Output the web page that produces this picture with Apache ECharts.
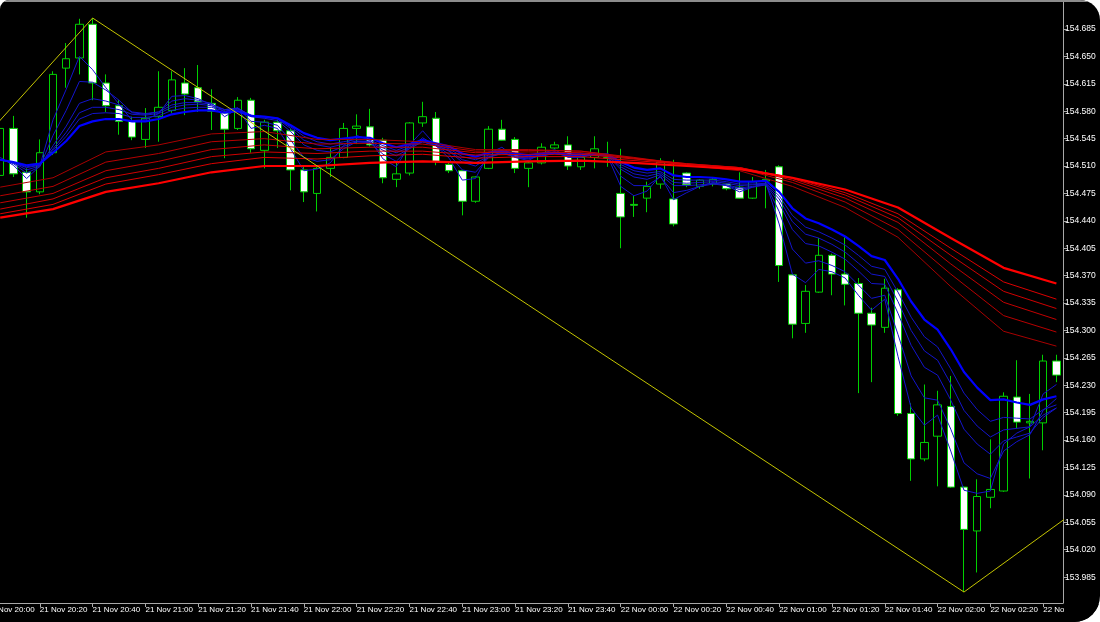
<!DOCTYPE html>
<html>
<head>
<meta charset="utf-8">
<script src="https://cdn.jsdelivr.net/npm/echarts@6/dist/echarts.min.js"></script>
<style>
  html,body{margin:0;padding:0;background:#fff;}
  #wrap{position:relative;width:1100px;height:622px;background:#000;border-radius:9px 20px 26px 0;overflow:hidden;}
  #c{position:absolute;left:-16px;top:0;width:1116px;height:622px;}
</style>
</head>
<body>
<div id="wrap"><div id="c"></div></div>
<script>
// ---- data (M5 bars, 21 Nov 20:05 .. 22 Nov 02:45) ----
const times = [
"20:05","20:10","20:15","20:20","20:25","20:30","20:35","20:40","20:45","20:50",
"20:55","21:00","21:05","21:10","21:15","21:20","21:25","21:30","21:35","21:40",
"21:45","21:50","21:55","22:00","22:05","22:10","22:15","22:20","22:25","22:30",
"22:35","22:40","22:45","22:50","22:55","23:00","23:05","23:10","23:15","23:20",
"23:25","23:30","23:35","23:40","23:45","23:50","23:55","00:00","00:05","00:10",
"00:15","00:20","00:25","00:30","00:35","00:40","00:45","00:50","00:55","01:00",
"01:05","01:10","01:15","01:20","01:25","01:30","01:35","01:40","01:45","01:50",
"01:55","02:00","02:05","02:10","02:15","02:20","02:25","02:30","02:35","02:40",
"02:45"];

const opens = [154.498,154.558,154.502,154.477,154.527,154.635,154.648,154.691,154.616,154.587,
154.567,154.544,154.573,154.581,154.616,154.610,154.590,154.578,154.558,154.594,
154.530,154.566,154.555,154.505,154.475,154.507,154.521,154.558,154.560,154.543,
154.493,154.501,154.565,154.571,154.512,154.504,154.465,154.507,154.557,154.544,
154.507,154.514,154.533,154.537,154.509,154.521,154.520,154.475,154.461,154.469,
154.487,154.468,154.501,154.484,154.487,154.487,154.483,154.469,154.491,154.509,
154.371,154.309,154.349,154.396,154.372,154.360,154.322,154.304,154.352,154.194,
154.136,154.165,154.203,154.100,154.044,154.087,154.095,154.215,154.182,154.182,
154.261];

const closes = [154.558,154.500,154.477,154.527,154.627,154.647,154.691,154.616,154.587,154.567,
154.547,154.571,154.585,154.620,154.602,154.592,154.580,154.557,154.594,154.532,
154.566,154.555,154.505,154.477,154.507,154.521,154.558,154.561,154.537,154.495,
154.500,154.565,154.573,154.516,154.504,154.465,154.496,154.557,154.543,154.507,
154.514,154.534,154.537,154.510,154.521,154.532,154.521,154.445,154.460,154.484,
154.515,154.436,154.486,154.492,154.493,154.481,154.469,154.490,154.493,154.383,
154.308,154.350,154.396,154.372,154.359,154.322,154.307,154.354,154.194,154.136,
154.157,154.205,154.100,154.046,154.088,154.097,154.216,154.183,154.184,154.261,
154.243];

const lows = [154.492,154.496,154.444,154.474,154.524,154.610,154.627,154.594,154.579,154.550,
154.543,154.533,154.541,154.578,154.575,154.579,154.556,154.520,154.556,154.527,
154.507,154.533,154.479,154.464,154.452,154.496,154.520,154.538,154.535,154.488,
154.483,154.498,154.560,154.511,154.501,154.447,154.463,154.506,154.542,154.501,
154.483,154.512,154.532,154.505,154.505,154.507,154.509,154.405,154.445,154.451,
154.481,154.433,154.483,154.481,154.484,154.479,154.468,154.468,154.456,154.362,
154.290,154.297,154.348,154.345,154.332,154.220,154.234,154.297,154.191,154.108,
154.133,154.101,154.099,153.966,153.991,154.073,154.094,154.175,154.111,154.147,
154.234];

const highs = [154.569,154.574,154.507,154.544,154.631,154.667,154.698,154.699,154.627,154.594,
154.573,154.584,154.631,154.631,154.635,154.639,154.608,154.581,154.598,154.597,
154.569,154.569,154.558,154.510,154.510,154.534,154.565,154.576,154.583,154.546,
154.514,154.566,154.592,154.579,154.514,154.505,154.497,154.561,154.569,154.547,
154.515,154.539,154.541,154.548,154.524,154.548,154.541,154.532,154.472,154.490,
154.520,154.518,154.502,154.493,154.496,154.488,154.502,154.496,154.505,154.511,
154.372,154.358,154.418,154.398,154.419,154.367,154.329,154.366,154.354,154.207,
154.231,154.223,154.242,154.101,154.110,154.161,154.221,154.262,154.219,154.269,
154.269];

// short-term moving averages (blue), one value per bar
const ema3 = [154.521,154.511,154.494,154.510,154.569,154.608,154.650,154.633,154.610,154.589,
154.568,154.569,154.577,154.599,154.600,154.596,154.588,154.573,154.583,154.558,
154.562,154.558,154.532,154.504,154.506,154.514,154.536,154.549,154.543,154.519,
154.509,154.537,154.555,154.536,154.520,154.492,154.494,154.526,154.534,154.521,
154.517,154.526,154.531,154.521,154.521,154.526,154.523,154.484,154.472,154.478,
154.498,154.467,154.476,154.484,154.489,154.485,154.477,154.483,154.488,154.436,
154.372,154.361,154.378,154.375,154.367,154.345,154.326,154.340,154.267,154.201,
154.179,154.192,154.146,154.096,154.092,154.095,154.155,154.169,154.177,154.219,
154.231];
const ema5 = [154.519,154.513,154.501,154.509,154.549,154.581,154.618,154.617,154.607,154.594,
154.578,154.576,154.579,154.593,154.596,154.594,154.590,154.579,154.584,154.567,
154.566,154.562,154.543,154.521,154.516,154.518,154.532,154.541,154.540,154.525,
154.516,154.533,154.546,154.536,154.525,154.505,154.502,154.521,154.528,154.521,
154.519,154.524,154.528,154.522,154.522,154.525,154.523,154.497,154.485,154.485,
154.496,154.476,154.479,154.484,154.487,154.485,154.480,154.483,154.486,154.452,
154.404,154.386,154.389,154.383,154.375,154.358,154.341,154.345,154.295,154.242,
154.214,154.211,154.174,154.131,154.117,154.111,154.146,154.158,154.167,154.198,
154.213];
const ema8 = [154.518,154.514,154.505,154.510,154.536,154.561,154.590,154.596,154.593,154.588,
154.579,154.577,154.579,154.588,154.591,154.591,154.589,154.582,154.584,154.573,
154.571,154.568,154.554,154.537,154.530,154.528,154.535,154.541,154.540,154.530,
154.523,154.532,154.541,154.536,154.529,154.515,154.510,154.521,154.526,154.522,
154.520,154.523,154.526,154.523,154.522,154.524,154.523,154.506,154.496,154.493,
154.499,154.485,154.485,154.486,154.488,154.486,154.482,154.484,154.486,154.463,
154.429,154.411,154.408,154.400,154.391,154.376,154.360,154.359,154.322,154.281,
154.253,154.243,154.211,154.174,154.155,154.142,154.159,154.164,154.169,154.189,
154.201];
const ema10 = [154.518,154.514,154.508,154.511,154.532,154.553,154.578,154.585,154.585,154.582,
154.576,154.575,154.577,154.585,154.588,154.589,154.587,154.582,154.584,154.574,
154.573,154.570,154.558,154.543,154.537,154.534,154.538,154.542,154.541,154.533,
154.527,154.534,154.541,154.536,154.530,154.518,154.514,154.522,154.526,154.523,
154.521,154.523,154.526,154.523,154.523,154.524,154.523,154.509,154.500,154.497,
154.501,154.489,154.488,154.489,154.490,154.488,154.485,154.486,154.487,154.468,
154.439,154.423,154.418,154.410,154.400,154.386,154.372,154.369,154.337,154.300,
154.274,154.262,154.232,154.198,154.178,154.164,154.173,154.175,154.177,154.192,
154.201];
const ema12 = [154.518,154.515,154.509,154.512,154.530,154.548,154.570,154.577,154.578,154.577,
154.572,154.572,154.574,154.581,154.584,154.585,154.585,154.580,154.583,154.575,
154.573,154.571,154.560,154.548,154.541,154.538,154.541,154.544,154.543,154.536,
154.530,154.536,154.541,154.537,154.532,154.522,154.518,154.524,154.527,154.524,
154.522,154.524,154.526,154.524,154.523,154.525,154.524,154.512,154.504,154.501,
154.503,154.493,154.492,154.492,154.492,154.490,154.487,154.487,154.488,154.472,
154.447,154.432,154.426,154.418,154.409,154.396,154.382,154.378,154.349,154.317,
154.292,154.279,154.251,154.220,154.199,154.184,154.189,154.188,154.187,154.199,
154.205];
const ema15 = [154.518,154.515,154.511,154.513,154.527,154.542,154.561,154.567,154.570,154.570,
154.567,154.567,154.570,154.576,154.579,154.581,154.581,154.578,154.580,154.574,
154.573,154.571,154.562,154.552,154.546,154.543,154.545,154.547,154.546,154.539,
154.534,154.538,154.543,154.539,154.535,154.526,154.522,154.527,154.529,154.526,
154.524,154.526,154.527,154.525,154.525,154.525,154.525,154.515,154.508,154.505,
154.507,154.498,154.496,154.496,154.495,154.493,154.490,154.490,154.491,154.477,
154.456,154.443,154.437,154.429,154.420,154.408,154.395,154.390,154.366,154.337,
154.314,154.301,154.276,154.247,154.227,154.211,154.212,154.208,154.205,154.212,
154.216];

// long-term moving averages (red), read every 20 minutes
const redTimes = ["20:05","20:25","20:45","21:05","21:25","21:45","22:05","22:25","22:45","23:05",
"23:25","23:45","00:05","00:25","00:45","01:05","01:25","01:45","02:05","02:25","02:45"];
const ema30 = [154.483,154.495,154.528,154.537,154.551,154.554,154.544,154.544,154.541,154.531,154.531,154.529,154.520,154.511,154.504,154.484,154.457,154.419,154.356,154.299,154.280];
const ema35 = [154.472,154.484,154.515,154.526,154.541,154.545,154.538,154.539,154.538,154.529,154.530,154.529,154.521,154.512,154.507,154.489,154.464,154.429,154.372,154.319,154.298];
const ema40 = [154.463,154.475,154.504,154.516,154.531,154.537,154.532,154.534,154.534,154.527,154.528,154.527,154.520,154.513,154.508,154.492,154.469,154.438,154.385,154.336,154.314];
const ema45 = [154.455,154.468,154.495,154.507,154.522,154.528,154.526,154.529,154.529,154.524,154.525,154.525,154.519,154.513,154.508,154.494,154.473,154.444,154.396,154.350,154.328];
const ema50 = [154.449,154.461,154.487,154.499,154.513,154.521,154.519,154.523,154.525,154.520,154.522,154.522,154.517,154.512,154.508,154.495,154.476,154.449,154.405,154.362,154.340];
const ema60 = [154.444,154.455,154.477,154.488,154.502,154.510,154.510,154.514,154.516,154.514,154.516,154.517,154.514,154.510,154.506,154.495,154.480,154.457,154.418,154.380,154.360];

// zigzag pivots
const zigTimes = ["19:45","20:40","02:10","02:55"];
const zigValues = [154.494,154.699,153.966,154.076];

// price scale tick labels
const priceTicks = [153.985,154.020,154.055,154.090,154.125,154.160,154.195,154.230,154.265,154.300,
154.335,154.370,154.405,154.440,154.475,154.510,154.545,154.580,154.615,154.650,154.685];

// ---- chart ----
const toMin = t => { const p = t.split(':'); const h = +p[0], m = +p[1]; return (h < 12 ? 1440 : 0) + h * 60 + m; };
const pad = n => (n < 10 ? '0' : '') + n;
const fmtTime = v => {
  const day = v >= 1440 ? 22 : 21;
  const mm = ((v % 1440) + 1440) % 1440;
  return day + ' Nov ' + pad(Math.floor(mm / 60)) + ':' + pad(Math.round(mm % 60));
};

const candleData = times.map((t, i) => [toMin(t), opens[i], closes[i], lows[i], highs[i]]);
const lineData = (ts, arr) => ts.map((t, i) => [toMin(t), arr[i]]);

const blueSeries = [
  [ema3, '#1414cc', 1], [ema5, '#1414cc', 1], [ema8, '#1414cc', 1],
  [ema10, '#1414cc', 1], [ema12, '#1414cc', 1], [ema15, '#0000ff', 2.2]
].map(([arr, col, w]) => ({
  type: 'line', data: lineData(times, arr), showSymbol: false, symbol: 'none',
  lineStyle: { color: col, width: w }, z: 3, silent: true, animation: false
}));
const redSeries = [
  [ema30, '#a80000', 1], [ema35, '#b80000', 1], [ema40, '#c40000', 1],
  [ema45, '#d00000', 1], [ema50, '#dc0000', 1], [ema60, '#ff0000', 2.2]
].map(([arr, col, w]) => ({
  type: 'line', data: lineData(redTimes, arr), showSymbol: false, symbol: 'none',
  lineStyle: { color: col, width: w }, z: 4, silent: true, animation: false
}));

const chart = echarts.init(document.getElementById('c'), null, { renderer: 'canvas' });
const axisCol = '#a8a8a8';
chart.setOption({
  backgroundColor: 'transparent',
  animation: false,
  grid: { left: 0, right: 37, top: 0, bottom: 19 },
  xAxis: {
    type: 'value', min: 1200, max: 1607.5, interval: 20,
    axisLine: { show: true, lineStyle: { color: axisCol, width: 1 } },
    axisTick: { show: true, length: 4, lineStyle: { color: axisCol } },
    axisLabel: {
      formatter: fmtTime, color: '#ffffff', fontSize: 8, fontFamily: 'Liberation Sans',
      align: 'left', margin: 3, padding: [0, 0, 0, 0], showMaxLabel: false, hideOverlap: false
    },
    splitLine: { show: false }
  },
  yAxis: {
    type: 'value', position: 'right', min: 153.952, max: 154.722,
    axisLine: { show: true, lineStyle: { color: axisCol, width: 1 } },
    axisTick: { show: true, length: 4, customValues: priceTicks, lineStyle: { color: axisCol } },
    axisLabel: {
      customValues: priceTicks, formatter: v => v.toFixed(3),
      color: '#ffffff', fontSize: 8.5, fontFamily: 'Liberation Sans', margin: 2
    },
    splitLine: { show: false }
  },
  series: [
    {
      type: 'candlestick', data: candleData, encode: { x: 0, y: [1, 2, 3, 4] },
      barWidth: 8, z: 2, silent: true,
      itemStyle: { color: '#000000', color0: '#ffffff', borderColor: '#00d000', borderColor0: '#00d000', borderWidth: 1 }
    },
    ...blueSeries,
    ...redSeries,
    {
      type: 'line', data: lineData(zigTimes, zigValues), showSymbol: false, symbol: 'none',
      lineStyle: { color: '#c4c400', width: 1 }, z: 5, silent: true
    }
  ],
  graphic: [
    { type: 'rect', right: 0, bottom: 0, shape: { width: 36, height: 18 }, style: { fill: '#000' }, z: 100 },
    { type: 'rect', left: 0, top: 0, shape: { width: 1116, height: 2 }, style: { fill: '#8c8c8c' }, z: 100 }
  ]
});
</script>
</body>
</html>
